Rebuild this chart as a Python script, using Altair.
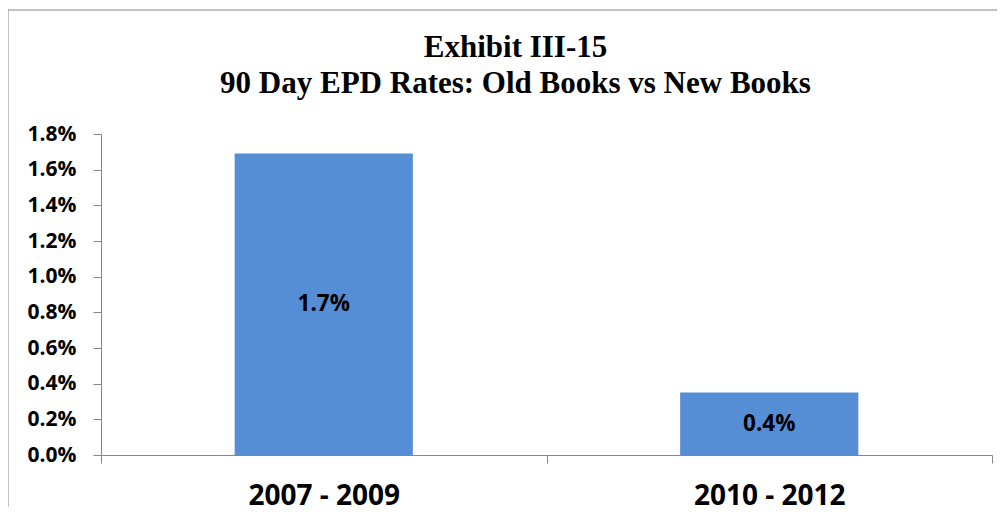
import altair as alt
import pandas as pd

categories = ["2007 - 2009", "2010 - 2012"]
rates = [0.0169, 0.0035]
title_lines = ["Exhibit III-15", "90 Day EPD Rates: Old Books vs New Books"]
y_ticks = [0.0, 0.002, 0.004, 0.006, 0.008, 0.010, 0.012, 0.014, 0.016, 0.018]

df = pd.DataFrame({"period": categories, "rate": rates})
df["mid"] = df["rate"] / 2

BAR = "#558ed5"
AX = "#868686"
LABEL_FONT = "Open Sans"

x_axis = alt.Axis(
    labelAngle=0,
    labelFont=LABEL_FONT,
    labelFontSize=28,
    labelFontWeight="bold",
    labelColor="black",
    labelPadding=19,
    tickBand="extent",
    tickSize=8,
    tickColor=AX,
    domainColor=AX,
    grid=False,
)
x_scale = alt.Scale(paddingInner=0, paddingOuter=0)

y_axis = alt.Axis(
    values=y_ticks,
    format=".1%",
    labelFont=LABEL_FONT,
    labelFontSize=21,
    labelFontWeight="bold",
    labelColor="black",
    labelPadding=17,
    labelOverlap=False,
    tickSize=8,
    tickColor=AX,
    domainColor=AX,
    grid=False,
)
y_scale = alt.Scale(domain=[0, 0.018], nice=False)

bars = alt.Chart(df).mark_bar(color=BAR, width=alt.RelativeBandSize(0.4)).encode(
    x=alt.X("period:N", sort=categories, title=None, scale=x_scale, axis=x_axis),
    y=alt.Y("rate:Q", title=None, scale=y_scale, axis=y_axis),
)

labels = alt.Chart(df).mark_text(
    font=LABEL_FONT, fontSize=22.5, fontWeight="bold", color="black", baseline="middle"
).encode(
    x=alt.X("period:N", sort=categories, title=None, scale=x_scale, axis=x_axis),
    y=alt.Y("mid:Q", title=None, scale=y_scale, axis=y_axis),
    text=alt.Text("rate:Q", format=".1%"),
)

frame_df = pd.DataFrame({"k": [0]})
frame_left = alt.Chart(frame_df).mark_rule(color=AX, strokeWidth=1).encode(
    x=alt.value(-93), y=alt.value(-124), y2=alt.value(420)
)
frame_top = alt.Chart(frame_df).mark_rule(color=AX, strokeWidth=1).encode(
    y=alt.value(-124), x=alt.value(-93), x2=alt.value(960)
)

chart = alt.layer(bars, labels, frame_left, frame_top).properties(
    width=891,
    height=321,
    autosize=alt.AutoSizeParams(type="none"),
    padding={"left": 93, "top": 126, "right": 5, "bottom": 52},
    title=alt.TitleParams(
        text=title_lines,
        font="Liberation Serif",
        fontSize=31,
        fontWeight="bold",
        color="black",
        lineHeight=36,
        anchor="middle",
        frame="group",
        dx=-31,
        offset=-90,
    ),
).configure_view(stroke="transparent")

chart.save("out.html", embed_options={"renderer": "svg", "actions": False})
